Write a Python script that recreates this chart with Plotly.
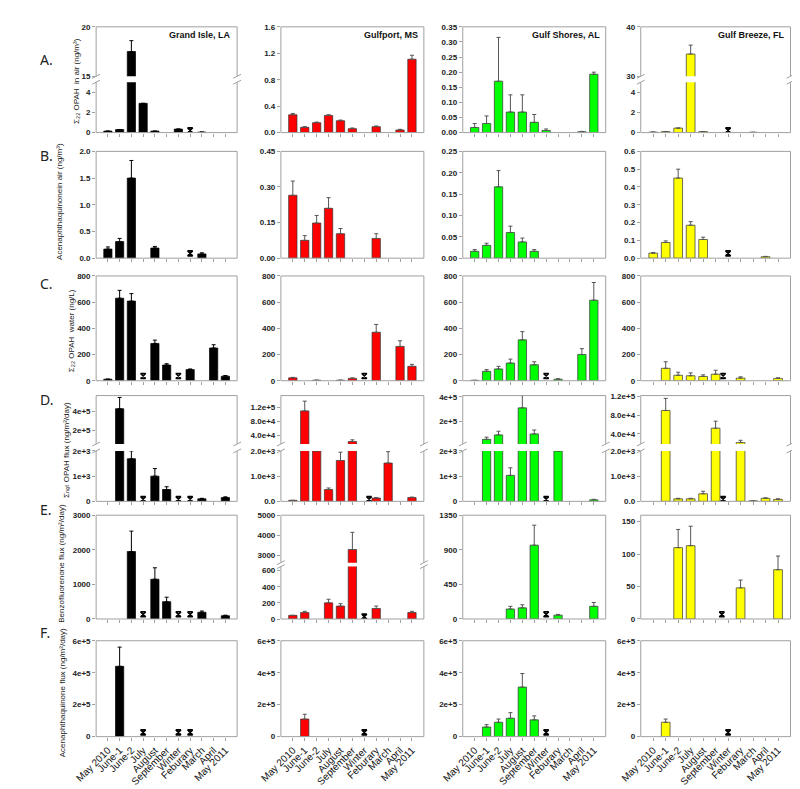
import numpy as np
import plotly.graph_objects as go

N = None
CATEGORIES = ["May 2010", "June-1", "June-2", "July", "August", "September",
              "Winter", "Feburary", "March", "April", "May 2011"]
SITES = ["Grand Isle, LA", "Gulfport, MS", "Gulf Shores, AL", "Gulf Breeze, FL"]
ROW_LETTERS = ["A.", "B.", "C.", "D.", "E.", "F."]
Y_TITLES = ["Σ₂₂ OPAH  in air (ng/m³)",
            "Acenaphthaquinonein air (ng/m³)",
            "Σ₂₂ OPAH  water (ng/L)",
            "Σₙₑₜ OPAH flux (ng/m²/day)",
            "Benzofluorenone flux (ng/m²/day)",
            "Acenaphthaquinone flux (ng/m²/day)"]
SITE_COLORS = ["#000000", "#ff0000", "#00ff00", "#ffff00"]

# ---- Row A: sum OPAH in air (ng/m3) ----
air_GI = [0.15, 0.3, 17.5, 2.9, 0.15, N, 0.35, N, 0.05, N, N]
air_GI_err = [N, N, 18.6, N, N, N, N, N, N, N, N]
air_GI_nd = [7]
air_GP = [0.27, 0.08, 0.15, 0.26, 0.18, 0.06, N, 0.09, N, 0.04, 1.11]
air_GP_err = [0.29, 0.09, 0.16, 0.27, 0.19, 0.07, N, 0.10, N, 0.05, 1.17]
air_GP_nd = []
air_GS = [0.017, 0.03, 0.17, 0.068, 0.068, 0.034, 0.007, N, N, 0.003, 0.193]
air_GS_err = [0.03, 0.055, 0.315, 0.125, 0.125, 0.06, 0.012, N, N, 0.004, 0.2]
air_GS_nd = []
air_GB = [0.05, 0.1, 0.45, 34.5, 0.1, N, N, N, 0.03, N, N]
air_GB_err = [N, N, N, 36.3, N, N, N, N, N, N, N]
air_GB_nd = [6]

# ---- Row B: acenaphthaquinone in air (ng/m3) ----
acqa_GI = [0.17, 0.31, 1.5, N, 0.19, N, N, N, 0.08, N, N]
acqa_GI_err = [0.21, 0.37, 1.83, N, 0.22, N, N, N, 0.1, N, N]
acqa_GI_nd = [7]
acqa_GP = [0.265, 0.075, 0.148, 0.21, 0.103, N, N, 0.083, N, N, N]
acqa_GP_err = [0.325, 0.095, 0.18, 0.255, 0.125, N, N, 0.103, N, N, N]
acqa_GP_nd = []
acqa_GS = [0.016, 0.03, 0.167, 0.06, 0.038, 0.016, N, N, N, N, N]
acqa_GS_err = [0.02, 0.035, 0.205, 0.075, 0.047, 0.02, N, N, N, N, N]
acqa_GS_nd = []
acqa_GB = [0.028, 0.088, 0.45, 0.185, 0.105, N, N, N, N, 0.008, N]
acqa_GB_err = [0.032, 0.097, 0.5, 0.205, 0.118, N, N, N, N, 0.01, N]
acqa_GB_nd = [6]

# ---- Row C: sum OPAH water (ng/L) ----
wat_GI = [12, 630, 608, N, 285, 120, N, 85, N, 250, 35]
wat_GI_err = [N, 690, 665, N, 310, 130, N, 90, N, 275, 40]
wat_GI_nd = [3, 6]
wat_GP = [22, N, 4, N, 4, 18, N, 370, N, 262, 110]
wat_GP_err = [26, N, N, N, N, 22, N, 430, N, 305, 125]
wat_GP_nd = [6]
wat_GS = [3, 72, 90, 135, 312, 122, N, 12, N, 200, 615]
wat_GS_err = [N, 85, 110, 165, 375, 145, N, 15, N, 245, 750]
wat_GS_nd = [6]
wat_GB = [N, 95, 42, 38, 33, 50, N, 20, N, N, 18]
wat_GB_err = [N, 145, 65, 60, 45, 80, N, 30, N, N, 22]
wat_GB_nd = [5.6]

# ---- Row D: net OPAH flux (ng/m2/day) ----
flux_GI = [N, 4.3e5, 1690, N, 1000, 470, N, N, 100, N, 150]
flux_GI_err = [N, 5.5e5, 2000, N, 1300, 580, N, N, 120, N, 180]
flux_GI_nd = [3, 6, 7]
flux_GP = [40, 1.1e5, 2000, 470, 1620, 2.2e4, N, 130, 1520, N, 150]
flux_GP_err = [N, 1.38e5, N, 530, 1950, 2.7e4, N, 150, 1970, N, 170]
flux_GP_nd = [6.4]
flux_GS = [N, 5.4e4, 9e4, 1030, 3.1e5, 9.8e4, N, 2000, N, N, 60]
flux_GS_err = [N, 7.2e4, 1.2e5, 1330, 4.1e5, 1.3e5, N, N, N, N, 80]
flux_GS_nd = [6]
flux_GB = [N, 9e4, 100, 100, 300, 5.2e4, N, 2.1e4, 20, 120, 80]
flux_GB_err = [N, 1.16e5, 120, 120, 400, 6.7e4, N, 2.6e4, N, 140, 100]
flux_GB_nd = [5.6]

# ---- Row E: benzofluorenone flux (ng/m2/day) ----
bzf_GI = [N, N, 1950, N, 1150, 500, N, N, 195, N, 95]
bzf_GI_err = [N, N, 2540, N, 1480, 630, N, N, 230, N, 110]
bzf_GI_nd = [3, 6, 7]
bzf_GP = [45, 80, N, 200, 160, 3300, N, 130, N, N, 80]
bzf_GP_err = [N, 95, N, 245, 190, 4150, N, 160, N, N, 95]
bzf_GP_nd = [6]
bzf_GS = [N, N, N, 130, 145, 960, N, 50, N, N, 165]
bzf_GS_err = [N, N, N, 165, 185, 1220, N, 60, N, N, 215]
bzf_GS_nd = [6]
bzf_GB = [N, N, 110, 113, N, N, N, 48, N, N, 76]
bzf_GB_err = [N, N, 138, 143, N, N, N, 60, N, N, 97]
bzf_GB_nd = [5.5]

# ---- Row F: acenaphthaquinone flux (ng/m2/day) ----
acqf_GI = [N, 4.4e5, N, N, N, N, N, N, N, N, N]
acqf_GI_err = [N, 5.6e5, N, N, N, N, N, N, N, N, N]
acqf_GI_nd = [3, 6, 7]
acqf_GP = [N, 1.1e5, N, N, N, N, N, N, N, N, N]
acqf_GP_err = [N, 1.4e5, N, N, N, N, N, N, N, N, N]
acqf_GP_nd = [6]
acqf_GS = [N, 6e4, 9e4, 1.15e5, 3.1e5, 1.05e5, N, N, N, N, N]
acqf_GS_err = [N, 7.5e4, 1.1e5, 1.5e5, 3.95e5, 1.3e5, N, N, N, N, N]
acqf_GS_nd = [6]
acqf_GB = [N, 9e4, N, N, N, N, N, N, N, N, N]
acqf_GB_err = [N, 1.1e5, N, N, N, N, N, N, N, N, N]
acqf_GB_nd = [6]

# ---- tick labels ----
T_C = ([0, 200, 400, 600, 800], ["0", "200", "400", "600", "800"])
T_F = ([0, 2e5, 4e5, 6e5], ["0", "2e+5", "4e+5", "6e+5"])
T_D_lo_a = ([0, 1e3, 2e3], ["0", "1e+3", "2e+3"])
T_D_lo_b = ([0, 1e3, 2e3], ["0.0", "1.0e+3", "2.0e+3"])
T_D_hi_a = ([2e5, 4e5], ["2e+5", "4e+5"])
T_D_hi_b = ([4e4, 8e4, 1.2e5], ["4.0e+4", "8.0e+4", "1.2e+5"])

# ---------------- layout geometry (pixels) ----------------
W, H = 800, 789
COLS = [(68, 213), (258, 405), (445, 592), (628, 782)]
ROWS = [(15, 122), (141, 249), (267, 373), (388, 495), (509, 614), (636, 733)]
FRAME = "#a0a0a0"


def fx(p):
    return p / W


def fy(p):
    return 1 - p / H


def seg(rng, ticks, px):
    return dict(rng=rng, tv=ticks[0], tt=ticks[1], px=px)


def single(r, rng, ticks):
    return [seg(rng, ticks, ROWS[r])]


A_SPLIT = ((71, 122), (15, 65))
D_SPLIT = ((444, 495), (388, 437))
E_SPLIT = ((561, 614), (509, 557))

PANELS = [
    (0, 0, air_GI, air_GI_err, air_GI_nd,
     [seg([0, 5], ([0, 2, 4], ["0", "2", "4"]), A_SPLIT[0]),
      seg([15, 20], ([15, 20], ["15", "20"]), A_SPLIT[1])]),
    (0, 1, air_GP, air_GP_err, air_GP_nd,
     single(0, [0, 1.6], ([0, 0.4, 0.8, 1.2, 1.6], ["0.0", "0.4", "0.8", "1.2", "1.6"]))),
    (0, 2, air_GS, air_GS_err, air_GS_nd,
     single(0, [0, 0.35], ([0, 0.05, 0.1, 0.15, 0.2, 0.25, 0.3, 0.35],
                           ["0.00", "0.05", "0.10", "0.15", "0.20", "0.25", "0.30", "0.35"]))),
    (0, 3, air_GB, air_GB_err, air_GB_nd,
     [seg([0, 5], ([0, 2, 4], ["0", "2", "4"]), A_SPLIT[0]),
      seg([30, 40], ([30, 40], ["30", "40"]), A_SPLIT[1])]),

    (1, 0, acqa_GI, acqa_GI_err, acqa_GI_nd,
     single(1, [0, 2.0], ([0, 0.5, 1, 1.5, 2], ["0.0", "0.5", "1.0", "1.5", "2.0"]))),
    (1, 1, acqa_GP, acqa_GP_err, acqa_GP_nd,
     single(1, [0, 0.45], ([0, 0.15, 0.3, 0.45], ["0.00", "0.15", "0.30", "0.45"]))),
    (1, 2, acqa_GS, acqa_GS_err, acqa_GS_nd,
     single(1, [0, 0.25], ([0, 0.05, 0.1, 0.15, 0.2, 0.25],
                           ["0.00", "0.05", "0.10", "0.15", "0.20", "0.25"]))),
    (1, 3, acqa_GB, acqa_GB_err, acqa_GB_nd,
     single(1, [0, 0.6], ([0, 0.1, 0.2, 0.3, 0.4, 0.5, 0.6],
                          ["0.0", "0.1", "0.2", "0.3", "0.4", "0.5", "0.6"]))),

    (2, 0, wat_GI, wat_GI_err, wat_GI_nd, single(2, [0, 800], T_C)),
    (2, 1, wat_GP, wat_GP_err, wat_GP_nd, single(2, [0, 800], T_C)),
    (2, 2, wat_GS, wat_GS_err, wat_GS_nd, single(2, [0, 800], T_C)),
    (2, 3, wat_GB, wat_GB_err, wat_GB_nd, single(2, [0, 800], T_C)),

    (3, 0, flux_GI, flux_GI_err, flux_GI_nd,
     [seg([0, 2000], T_D_lo_a, D_SPLIT[0]), seg([5.3e4, 5.7e5], T_D_hi_a, D_SPLIT[1])]),
    (3, 1, flux_GP, flux_GP_err, flux_GP_nd,
     [seg([0, 2000], T_D_lo_b, D_SPLIT[0]), seg([1.5e4, 1.54e5], T_D_hi_b, D_SPLIT[1])]),
    (3, 2, flux_GS, flux_GS_err, flux_GS_nd,
     [seg([0, 2000], T_D_lo_a, D_SPLIT[0]), seg([1.6e4, 4.1e5], T_D_hi_a, D_SPLIT[1])]),
    (3, 3, flux_GB, flux_GB_err, flux_GB_nd,
     [seg([0, 2000], T_D_lo_b, D_SPLIT[0]), seg([1.8e4, 1.22e5], T_D_hi_b, D_SPLIT[1])]),

    (4, 0, bzf_GI, bzf_GI_err, bzf_GI_nd,
     single(4, [0, 3000], ([0, 1000, 2000, 3000], ["0", "1000", "2000", "3000"]))),
    (4, 1, bzf_GP, bzf_GP_err, bzf_GP_nd,
     [seg([0, 650], ([0, 200, 400, 600], ["0", "200", "400", "600"]), E_SPLIT[0]),
      seg([2650, 5000], ([3000, 4000, 5000], ["3000", "4000", "5000"]), E_SPLIT[1])]),
    (4, 2, bzf_GS, bzf_GS_err, bzf_GS_nd,
     single(4, [0, 1350], ([0, 450, 900, 1350], ["0", "450", "900", "1350"]))),
    (4, 3, bzf_GB, bzf_GB_err, bzf_GB_nd,
     single(4, [0, 160], ([0, 50, 100, 150], ["0", "50", "100", "150"]))),

    (5, 0, acqf_GI, acqf_GI_err, acqf_GI_nd, single(5, [0, 6e5], T_F)),
    (5, 1, acqf_GP, acqf_GP_err, acqf_GP_nd, single(5, [0, 6e5], T_F)),
    (5, 2, acqf_GS, acqf_GS_err, acqf_GS_nd, single(5, [0, 6e5], T_F)),
    (5, 3, acqf_GB, acqf_GB_err, acqf_GB_nd, single(5, [0, 6e5], T_F)),
]

fig = go.Figure()
layout = {}
shapes = []
ann = []
TICKFONT = dict(family="Liberation Sans, Arial", size=8, color="#222", weight="bold")


def line(x0, y0, x1, y1, color=FRAME, w=1):
    shapes.append(dict(type="line", xref="paper", yref="paper",
                       x0=fx(x0), y0=fy(y0), x1=fx(x1), y1=fy(y1),
                       line=dict(color=color, width=w)))


n = 0
xcat = list(range(len(CATEGORIES)))
for (r, c, v, e, nd, segs) in PANELS:
    x0, x1 = COLS[c]
    color = SITE_COLORS[c]
    vals = np.array([np.nan if a is None else a for a in v], float)
    errs = np.array([np.nan if a is None else a for a in e], float)
    plus = errs - vals
    minus = np.where(np.isnan(plus), np.nan, 0.0)
    ecol = "#000000" if c == 0 else "#555555"
    for k, s in enumerate(segs):
        n += 1
        xk = "xaxis" if n == 1 else f"xaxis{n}"
        yk = "yaxis" if n == 1 else f"yaxis{n}"
        xr = "x" if n == 1 else f"x{n}"
        yr = "y" if n == 1 else f"y{n}"
        top, bot = s["px"]
        bottom_seg = (k == 0)
        layout[xk] = dict(domain=[fx(x0), fx(x1)], range=[-1, len(CATEGORIES)], anchor=yr,
                          tickmode="array", tickvals=xcat, ticktext=CATEGORIES,
                          showticklabels=(r == 5 and bottom_seg),
                          ticks="outside" if bottom_seg else "", ticklen=3, tickcolor=FRAME,
                          tickangle=-45,
                          tickfont=dict(family="Liberation Sans, Arial", size=10, color="#111"),
                          showgrid=False, zeroline=False, showline=False, fixedrange=True)
        layout[yk] = dict(domain=[fy(bot), fy(top)], range=s["rng"], anchor=xr,
                          tickmode="array", tickvals=s["tv"], ticktext=s["tt"],
                          ticks="outside", ticklen=3, tickcolor=FRAME, tickfont=TICKFONT,
                          showgrid=False, zeroline=False, showline=False, fixedrange=True)
        fig.add_trace(go.Bar(
            x=xcat, y=vals.tolist(), width=0.7, xaxis=xr, yaxis=yr,
            marker=dict(color=color, line=dict(color="#333333" if c else "#000", width=0.7)),
            error_y=dict(type="data", symmetric=False, array=plus.tolist(),
                         arrayminus=minus.tolist(), color=ecol, thickness=1, width=2),
            showlegend=False, hoverinfo="skip"))
        if bottom_seg and nd:
            fig.add_trace(go.Scatter(
                x=nd, y=[s["rng"][1] * 0.045] * len(nd), mode="markers", xaxis=xr, yaxis=yr,
                marker=dict(symbol="hourglass-open", size=5, color="black",
                            line=dict(width=1.6, color="black")),
                showlegend=False, hoverinfo="skip"))
    # frame
    if len(segs) == 1:
        top, bot = segs[0]["px"]
        shapes.append(dict(type="rect", xref="paper", yref="paper",
                           x0=fx(x0), x1=fx(x1), y0=fy(bot), y1=fy(top),
                           line=dict(color=FRAME, width=1), layer="above"))
    else:
        ltop, lbot = segs[0]["px"]
        utop, ubot = segs[1]["px"]
        line(x0, utop, x1, utop)
        line(x0, lbot, x1, lbot)
        for xx in (x0, x1):
            line(xx, utop, xx, ubot)
            line(xx, ltop, xx, lbot)
            line(xx - 4, ubot + 2, xx + 4, ubot - 2)
            line(xx - 4, ltop + 2, xx + 4, ltop - 2)

# site names
for c, name in enumerate(SITES):
    ann.append(dict(text=name, xref="paper", yref="paper", x=fx(COLS[c][1] - 4), y=fy(23),
                    xanchor="right", yanchor="middle", showarrow=False,
                    font=dict(family="Liberation Sans, Arial", size=9, color="#111", weight="bold")))

# row letters and y titles
LETTER_Y = [48, 145, 275, 392, 503, 628]
TITLE_X = [47, 31, 42, 38, 33, 33]
TITLE_Y = [70, 192, 322, 443, 558, 689]
for r in range(6):
    ann.append(dict(text=ROW_LETTERS[r], xref="paper", yref="paper", x=fx(8), y=fy(LETTER_Y[r]),
                    xanchor="left", yanchor="middle", showarrow=False,
                    font=dict(family="Noto Sans, Open Sans", size=14, color="#222")))
    ann.append(dict(text=Y_TITLES[r], xref="paper", yref="paper", x=fx(TITLE_X[r]), y=fy(TITLE_Y[r]),
                    xanchor="center", yanchor="middle", textangle=-90, showarrow=False,
                    font=dict(family="Liberation Sans, DejaVu Sans", size=8, color="#222")))

fig.update_layout(width=W, height=H, margin=dict(l=0, r=0, t=0, b=0),
                  paper_bgcolor="white", plot_bgcolor="white",
                  shapes=shapes, annotations=ann, barmode="overlay", **layout)
fig.write_html("out.html")
